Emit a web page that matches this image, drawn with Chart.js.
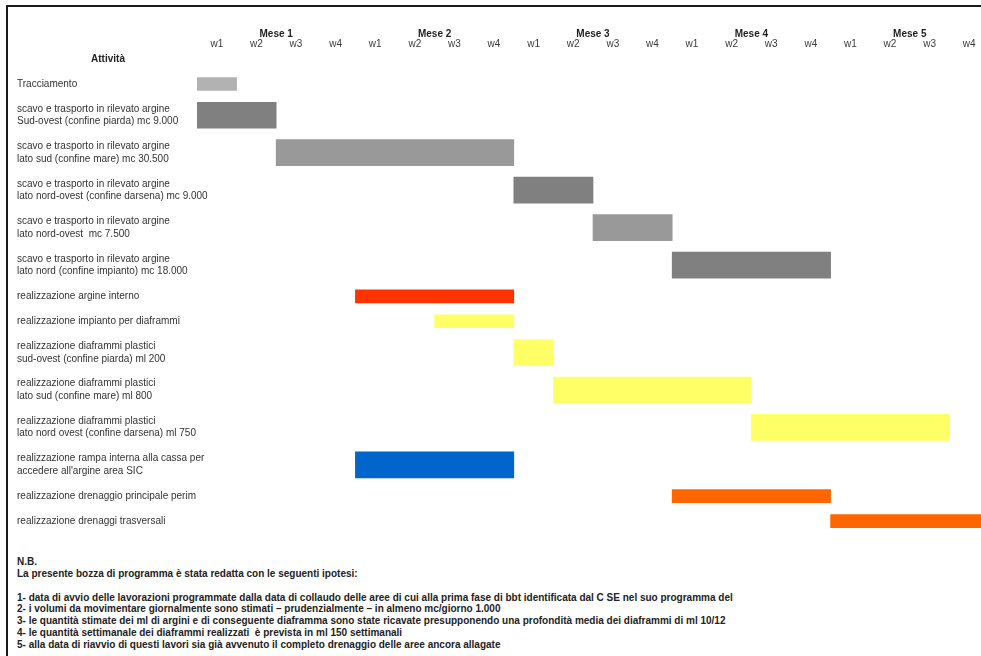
<!DOCTYPE html>
<html lang="it">
<head>
<meta charset="utf-8">
<title>Programma lavori</title>
<script src="https://cdn.jsdelivr.net/npm/chart.js@4/dist/chart.umd.min.js"></script>
<style>
  html, body { margin: 0; padding: 0; background: #fff; overflow: hidden; width: 981px; height: 656px; }
  #frame { position: absolute; left: 6px; top: 5px; width: 1100px; height: 800px; border: 2px solid #1a1a1a; box-sizing: border-box; }
  #wrap { position: absolute; left: 0; top: 0; width: 1000px; height: 545px; }
  #head { position: absolute; left: 0; width: 216px; top: 53px; text-align: center; font: bold 10px "Liberation Sans", Arial, sans-serif; color: #222; }
  #notes { position: absolute; left: 17px; top: 556px; font: bold 10px/11.85px "Liberation Sans", Arial, sans-serif; color: #222; white-space: pre; }
</style>
</head>
<body>
<div id="frame"></div>
<div id="wrap"><canvas id="gantt" width="1000" height="545"></canvas></div>
<div id="head">Attività</div>
<div id="notes"></div>
<script>
// Activities (each entry is one label line)
const activities = [
  ["Tracciamento"],
  ["scavo e trasporto in rilevato argine", "Sud-ovest (confine piarda) mc 9.000"],
  ["scavo e trasporto in rilevato argine", "lato sud (confine mare) mc 30.500"],
  ["scavo e trasporto in rilevato argine", "lato nord-ovest (confine darsena) mc 9.000"],
  ["scavo e trasporto in rilevato argine", "lato nord-ovest  mc 7.500"],
  ["scavo e trasporto in rilevato argine", "lato nord (confine impianto) mc 18.000"],
  ["realizzazione argine interno"],
  ["realizzazione impianto per diaframmi"],
  ["realizzazione diaframmi plastici", "sud-ovest (confine piarda) ml 200"],
  ["realizzazione diaframmi plastici", "lato sud (confine mare) ml 800"],
  ["realizzazione diaframmi plastici", "lato nord ovest (confine darsena) ml 750"],
  ["realizzazione rampa interna alla cassa per", "accedere all'argine area SIC"],
  ["realizzazione drenaggio principale perim"],
  ["realizzazione drenaggi trasversali"]
];

// Start and end of each activity, in weeks from the beginning of Mese 1
const startWeek = [0, 0, 2, 8, 10, 12, 4, 6, 8, 9, 14, 4, 12, 16];
const endWeek   = [1, 2, 8, 10, 12, 16, 8, 8, 9, 14, 19, 8, 16, 20];

// Time axis labels
const months = ["Mese 1", "Mese 2", "Mese 3", "Mese 4", "Mese 5"];
const weekNames = ["w1", "w2", "w3", "w4"];

// Bar colours per activity
const barColors = [
  "#b2b2b2", "#808080", "#999999", "#808080", "#999999", "#808080",
  "#ff3300", "#ffff66", "#ffff66", "#ffff66", "#ffff66",
  "#0066cc", "#ff6600", "#ff6600"
];

const notes = [
  "N.B.",
  "La presente bozza di programma è stata redatta con le seguenti ipotesi:",
  "",
  "1- data di avvio delle lavorazioni programmate dalla data di collaudo delle aree di cui alla prima fase di bbt identificata dal C SE nel suo programma del",
  "2- i volumi da movimentare giornalmente sono stimati – prudenzialmente – in almeno mc/giorno 1.000",
  "3- le quantità stimate dei ml di argini e di conseguente diaframma sono state ricavate presupponendo una profondità media dei diaframmi di ml 10/12",
  "4- le quantità settimanale dei diaframmi realizzati  è prevista in ml 150 settimanali",
  "5- alla data di riavvio di questi lavori sia già avvenuto il completo drenaggio delle aree ancora allagate"
];
document.getElementById("notes").textContent = notes.join("\n");

// Row layout: one-line rows take 2 units, two-line rows take 3 units
const rowCenters = [];
let cursor = 0;
activities.forEach(lines => {
  const h = lines.length === 1 ? 2 : 3;
  rowCenters.push(cursor + h / 2);
  cursor += h;
});
const totalUnits = cursor;
const weeksPerMonth = weekNames.length;
const totalWeeks = months.length * weeksPerMonth;

// Header ticks: week names at week centres, month names centred on each month
const headerTicks = [];
months.forEach((m, mi) => {
  weekNames.forEach((w, wi) => {
    headerTicks.push({ value: mi * weeksPerMonth + wi + 0.5, label: ["", w], month: false });
    if (wi === weeksPerMonth / 2 - 1) {
      headerTicks.push({ value: mi * weeksPerMonth + weeksPerMonth / 2, label: [m, ""], month: true });
    }
  });
});

function rowsWith(lineCount) {
  const idx = activities.map((l, i) => i).filter(i => activities[i].length === lineCount);
  return {
    data: idx.map(i => ({ x: [startWeek[i], endWeek[i]], y: rowCenters[i] })),
    colors: idx.map(i => barColors[i])
  };
}
const single = rowsWith(1);
const double = rowsWith(2);

const FONT = "'Liberation Sans', Arial, sans-serif";

new Chart(document.getElementById("gantt"), {
  type: "bar",
  data: {
    datasets: [
      { data: single.data, backgroundColor: single.colors, barThickness: 13, grouped: false },
      { data: double.data, backgroundColor: double.colors, barThickness: 26, grouped: false }
    ]
  },
  options: {
    indexAxis: "y",
    responsive: false,
    animation: false,
    devicePixelRatio: 1,
    layout: { padding: { left: 17, right: 11, top: 26.5, bottom: 11.4 } },
    plugins: { legend: { display: false }, tooltip: { enabled: false } },
    scales: {
      x: {
        type: "linear", position: "top", min: 0, max: totalWeeks, offset: false,
        grid: { display: false, drawTicks: false }, border: { display: false },
        afterBuildTicks: s => { s.ticks = headerTicks.map(t => ({ value: t.value })); },
        afterFit: s => { s.height = 45; },
        ticks: {
          autoSkip: false, maxRotation: 0, padding: 22.5,
          color: ctx => headerTicks[ctx.index] && headerTicks[ctx.index].month ? "#1e1e1e" : "#3a3a3a",
          font: ctx => ({
            family: FONT, size: 10, lineHeight: 1.0,
            weight: headerTicks[ctx.index] && headerTicks[ctx.index].month ? "bold" : "normal"
          }),
          callback: (v, i) => headerTicks[i].label
        }
      },
      y: {
        type: "linear", reverse: true, min: 0, max: totalUnits, offset: false,
        grid: { display: false, drawTicks: false }, border: { display: false },
        afterBuildTicks: s => { s.ticks = rowCenters.map(v => ({ value: v })); },
        afterFit: s => { s.width = 180; },
        ticks: {
          autoSkip: false, mirror: true, crossAlign: "near", padding: -180, color: "#333",
          font: { family: FONT, size: 10, lineHeight: 1.25 },
          callback: (v, i) => activities[i]
        }
      }
    }
  }
});
</script>
</body>
</html>
